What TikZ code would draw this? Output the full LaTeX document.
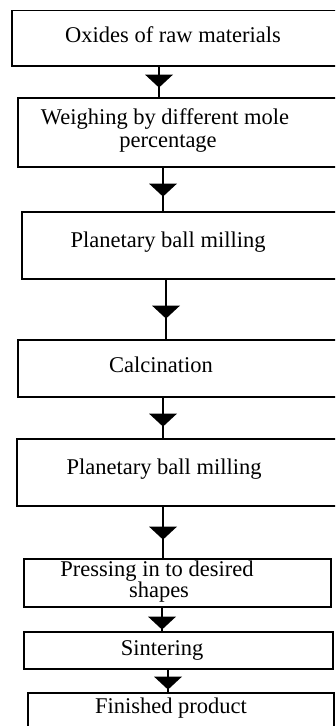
\documentclass[tikz,border=0pt]{standalone}
\usepackage{fontspec}
\setmainfont{Liberation Serif}
\usetikzlibrary{decorations.markings}

\tikzset{
  stepbox/.style={draw, line width=1.6pt, rectangle, anchor=north west, inner sep=0pt},
  flow/.style={line width=1.6pt,
    postaction={decorate, decoration={markings,
      mark=at position #1 with {\fill (0,0) -- (-13pt,14pt) -- (-13pt,-14pt) -- cycle;}}}},
  lbl/.style={anchor=base, inner sep=0pt, font=\fontsize{22.5}{24}\selectfont},
}

\begin{document}
\begin{tikzpicture}[x=1pt, y=-1pt]
\useasboundingbox (0,0) rectangle (335,726);
\begin{scope}
\clip (0,0) rectangle (335,726);

% process boxes
\node[stepbox, minimum width=340, minimum height=55.5] (b1) at (11,9.5) {};
\node[stepbox, minimum width=340, minimum height=69]   (b2) at (17,97) {};
\node[stepbox, minimum width=340, minimum height=67]   (b3) at (21,211) {};
\node[stepbox, minimum width=340, minimum height=57]   (b4) at (17,339) {};
\node[stepbox, minimum width=340, minimum height=67]   (b5) at (16,438) {};
\node[stepbox, minimum width=307, minimum height=48]   (b6) at (23,558) {};
\node[stepbox, minimum width=309, minimum height=37]   (b7) at (23,631) {};
\node[stepbox, minimum width=306, minimum height=45]   (b8) at (27,692) {};

% box texts
\node[lbl] (t1)  at (173,42)  {Oxides of raw materials};
\node[lbl] (t2a) at (165,124) {Weighing by different mole};
\node[lbl] (t2b) at (168,147) {percentage};
\node[lbl] (t3)  at (168,247) {Planetary ball milling};
\node[lbl] (t4)  at (161,372) {Calcination};
\node[lbl] (t5)  at (164,474) {Planetary ball milling};
\node[lbl] (t6a) at (157,576) {Pressing in to desired};
\node[lbl] (t6b) at (159,597) {shapes};
\node[lbl] (t7)  at (162,655) {Sintering};
\node[lbl] (t8)  at (171,713) {Finished product};

% connector columns
\coordinate (c1) at (159,0);
\coordinate (c2) at (163,0);
\coordinate (c3) at (166,0);
\coordinate (c4) at (163,0);
\coordinate (c5) at (163,0);
\coordinate (c6) at (162,0);
\coordinate (c7) at (168,0);

% connectors with filled triangles
\draw[flow=21pt] (b1.south -| c1) -- (b2.north -| c1);
\draw[flow=29pt] (b2.south -| c2) -- (b3.north -| c2);
\draw[flow=39pt] (b3.south -| c3) -- (b4.north -| c3);
\draw[flow=29pt] (b4.south -| c4) -- (b5.north -| c4);
\draw[flow=33pt] (b5.south -| c5) -- (b6.north -| c5);
\draw[flow=22pt] (b6.south -| c6) -- (b7.north -| c6);
\draw[flow=20pt] (b7.south -| c7) -- (b8.north -| c7);
\end{scope}
\end{tikzpicture}
\end{document}
